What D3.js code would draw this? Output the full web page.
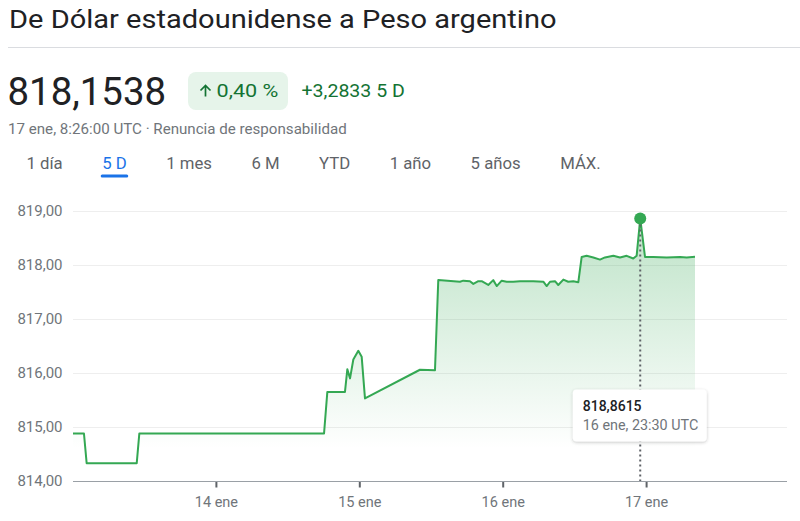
<!DOCTYPE html>
<html>
<head>
<meta charset="utf-8">
<script src="https://cdn.jsdelivr.net/npm/d3@7"></script>
<style>
  body { margin: 0; background: #fff; }
  svg { font-family: Roboto, "Noto Sans", sans-serif; }
</style>
</head>
<body>
<div id="chart"></div>
<script>
// ---- data ----
const title = "De Dólar estadounidense a Peso argentino";
const priceText = "818,1538";
const changePct = "0,40 %";
const changeAbs = "+3,2833 5 D";
const subtitle = "17 ene, 8:26:00 UTC · Renuncia de responsabilidad";
const tabs = ["1 día", "5 D", "1 mes", "6 M", "YTD", "1 año", "5 años", "MÁX."];
const activeTab = "5 D";

const yTicks = [814, 815, 816, 817, 818, 819];
const xTickDates = ["2024-01-14", "2024-01-15", "2024-01-16", "2024-01-17"];
const xTickLabels = ["14 ene", "15 ene", "16 ene", "17 ene"];

const times = [
  "2024-01-13T00:00", "2024-01-13T01:50", "2024-01-13T02:17", "2024-01-13T10:40",
  "2024-01-13T11:06", "2024-01-14T18:01", "2024-01-14T18:34", "2024-01-14T21:31",
  "2024-01-14T21:55", "2024-01-14T22:22", "2024-01-14T22:55", "2024-01-14T23:45",
  "2024-01-15T00:19", "2024-01-15T00:52", "2024-01-15T10:04", "2024-01-15T12:35",
  "2024-01-15T13:08", "2024-01-15T16:46", "2024-01-15T17:19", "2024-01-15T18:26",
  "2024-01-15T19:00", "2024-01-15T19:50", "2024-01-15T20:24", "2024-01-15T21:30",
  "2024-01-15T22:20", "2024-01-15T22:55", "2024-01-15T23:45", "2024-01-16T00:35",
  "2024-01-16T01:41", "2024-01-16T02:49", "2024-01-16T05:02", "2024-01-16T06:43",
  "2024-01-16T07:17", "2024-01-16T07:50", "2024-01-16T08:40", "2024-01-16T09:13",
  "2024-01-16T10:04", "2024-01-16T10:53", "2024-01-16T11:44", "2024-01-16T12:34",
  "2024-01-16T13:08", "2024-01-16T13:58", "2024-01-16T15:05", "2024-01-16T16:12",
  "2024-01-16T17:02", "2024-01-16T18:26", "2024-01-16T19:33", "2024-01-16T20:40",
  "2024-01-16T21:46", "2024-01-16T22:20", "2024-01-16T22:56", "2024-01-16T23:44",
  "2024-01-17T01:07", "2024-01-17T03:22", "2024-01-17T05:35", "2024-01-17T06:43",
  "2024-01-17T08:06"
];
const rates = [
  814.88, 814.88, 814.33, 814.33,
  814.88, 814.88, 815.65, 815.65,
  816.07, 815.90, 816.25, 816.41,
  816.30, 815.53, 816.06, 816.05,
  817.72, 817.69, 817.71, 817.70,
  817.65, 817.70, 817.70, 817.63,
  817.72, 817.61, 817.71, 817.69,
  817.69, 817.70, 817.70, 817.69,
  817.61, 817.69, 817.70, 817.63,
  817.73, 817.69, 817.70, 817.68,
  818.15, 818.17, 818.14, 818.10,
  818.14, 818.17, 818.14, 818.17,
  818.12, 818.17, 818.8615, 818.15,
  818.15, 818.14, 818.15, 818.14,
  818.1538
];

const hoverIndex = 50;
const hoverValue = "818,8615";
const hoverLabel = "16 ene, 23:30 UTC";

// ---- drawing ----
const width = 800, height = 521;
const green = "#34a853", darkGreen = "#137333";

const svg = d3.select("#chart").append("svg")
    .attr("width", width)
    .attr("height", height);

const parse = d3.utcParse("%Y-%m-%dT%H:%M");
const parseDay = d3.utcParse("%Y-%m-%d");
const data = times.map((t, i) => ({ date: parse(t), value: rates[i] }));

// the original uses a wider face than Roboto, so some texts get stretched a bit
function stretch(sel, k) {
  const w = sel.node().getComputedTextLength();
  sel.attr("textLength", w * k).attr("lengthAdjust", "spacingAndGlyphs");
  return w * k;
}

// header
svg.append("text")
    .attr("x", 9).attr("y", 28)
    .attr("font-size", 26.5)
    .attr("fill", "#202124")
    .text(title)
    .call(s => stretch(s, 1.095));

svg.append("line")
    .attr("x1", 8).attr("x2", width)
    .attr("y1", 47.5).attr("y2", 47.5)
    .attr("stroke", "#dadce0");

svg.append("text")
    .attr("x", 7.5).attr("y", 105)
    .attr("font-size", 38)
    .attr("fill", "#202124")
    .text(priceText)
    .call(s => stretch(s, 1.01));

svg.append("rect")
    .attr("x", 188).attr("y", 72)
    .attr("width", 100).attr("height", 38)
    .attr("rx", 8)
    .attr("fill", "#e6f4ea");

svg.append("path")
    .attr("d", "M205.5,96.5V85.5M200.5,90.5L205.5,85.5L210.5,90.5")
    .attr("fill", "none")
    .attr("stroke", darkGreen)
    .attr("stroke-width", 1.7);

svg.append("text")
    .attr("x", 216.5).attr("y", 97)
    .attr("font-size", 18)
    .attr("fill", darkGreen)
    .text(changePct)
    .call(s => stretch(s, 1.2));

svg.append("text")
    .attr("x", 301.5).attr("y", 97)
    .attr("font-size", 18)
    .attr("fill", darkGreen)
    .text(changeAbs)
    .call(s => stretch(s, 1.085));

svg.append("text")
    .attr("x", 8).attr("y", 133.5)
    .attr("font-size", 14)
    .attr("fill", "#70757a")
    .text(subtitle)
    .call(s => stretch(s, 1.08));

// tabs, laid out by their own text widths
let tabX = 26.5;
tabs.forEach(label => {
  const isActive = label === activeTab;
  const t = svg.append("text")
      .attr("x", tabX).attr("y", 168.5)
      .attr("font-size", 16)
      .attr("fill", isActive ? "#1a73e8" : "#5f6368")
      .text(label);
  const w = stretch(t, 1.045);
  if (isActive) {
    svg.append("rect")
        .attr("x", tabX - 1.5).attr("y", 174.5)
        .attr("width", w + 3).attr("height", 3)
        .attr("rx", 1.5)
        .attr("fill", "#1a73e8");
  }
  tabX += w + 39.5;
});

// chart
const x = d3.scaleUtc()
    .domain([parseDay("2024-01-13"), parseDay("2024-01-18")])
    .range([73, 790]);
const y = d3.scaleLinear()
    .domain([814, 819])
    .range([481, 211]);
const plotRight = 787;

const defs = svg.append("defs");
const grad = defs.append("linearGradient")
    .attr("id", "area-fill")
    .attr("gradientUnits", "userSpaceOnUse")
    .attr("x1", 0).attr("x2", 0)
    .attr("y1", y(818.3)).attr("y2", y(814.6));
grad.append("stop").attr("offset", 0).attr("stop-color", green).attr("stop-opacity", 0.28);
grad.append("stop").attr("offset", 1).attr("stop-color", green).attr("stop-opacity", 0);

const shadow = defs.append("filter")
    .attr("id", "tip-shadow")
    .attr("x", "-20%").attr("y", "-30%")
    .attr("width", "140%").attr("height", "170%");
shadow.append("feDropShadow")
    .attr("dx", 0).attr("dy", 1)
    .attr("stdDeviation", 1.6)
    .attr("flood-color", "#3c4043")
    .attr("flood-opacity", 0.3);

// grid
svg.append("g")
  .selectAll("line")
  .data(yTicks.slice(1))
  .join("line")
    .attr("x1", x.range()[0]).attr("x2", plotRight)
    .attr("y1", d => y(d) + 0.5).attr("y2", d => y(d) + 0.5)
    .attr("stroke", "#eeeeee");

// y labels
svg.append("g")
  .selectAll("text")
  .data(yTicks)
  .join("text")
    .attr("x", 62.5)
    .attr("y", d => y(d))
    .attr("dy", "0.35em")
    .attr("text-anchor", "end")
    .attr("font-size", 15)
    .attr("fill", "#70757a")
    .text(d => d3.format(".2f")(d).replace(".", ","));

// area + line
const area = d3.area()
    .x(d => x(d.date))
    .y0(y(814))
    .y1(d => y(d.value));
const line = d3.line()
    .x(d => x(d.date))
    .y(d => y(d.value));

svg.append("path")
    .datum(data)
    .attr("d", area)
    .attr("fill", "url(#area-fill)");

// x axis
svg.append("line")
    .attr("x1", x.range()[0]).attr("x2", plotRight)
    .attr("y1", 481.5).attr("y2", 481.5)
    .attr("stroke", "#9aa0a6");

const xTicks = svg.append("g")
  .selectAll("g")
  .data(xTickDates.map((d, i) => ({ date: parseDay(d), label: xTickLabels[i] })))
  .join("g")
    .attr("transform", d => `translate(${x(d.date)},0)`);
xTicks.append("line")
    .attr("y1", 482).attr("y2", 487.5)
    .attr("stroke", "#5f6368")
    .attr("stroke-width", 2);
xTicks.append("text")
    .attr("y", 506.5)
    .attr("text-anchor", "middle")
    .attr("font-size", 14.5)
    .attr("fill", "#70757a")
    .text(d => d.label);

svg.append("path")
    .datum(data)
    .attr("d", line)
    .attr("fill", "none")
    .attr("stroke", green)
    .attr("stroke-width", 2)
    .attr("stroke-linejoin", "round");

// hover marker
const hp = data[hoverIndex];
svg.append("line")
    .attr("x1", x(hp.date)).attr("x2", x(hp.date))
    .attr("y1", y(hp.value) + 6).attr("y2", 481)
    .attr("stroke", "#5f6368")
    .attr("stroke-width", 2)
    .attr("stroke-dasharray", "2,3");

svg.append("circle")
    .attr("cx", x(hp.date)).attr("cy", y(hp.value))
    .attr("r", 6)
    .attr("fill", green);

const tip = svg.append("g")
    .attr("transform", `translate(${x(hp.date) - 67.5},389.5)`);
tip.append("rect")
    .attr("width", 134).attr("height", 52)
    .attr("rx", 4)
    .attr("fill", "#fff")
    .attr("filter", "url(#tip-shadow)");
tip.append("text")
    .attr("x", 10).attr("y", 21.5)
    .attr("font-size", 14)
    .attr("font-weight", 500)
    .attr("fill", "#202124")
    .text(hoverValue);
tip.append("text")
    .attr("x", 10).attr("y", 40.5)
    .attr("font-size", 14)
    .attr("fill", "#70757a")
    .text(hoverLabel)
    .call(s => stretch(s, 1.025));
</script>
</body>
</html>
